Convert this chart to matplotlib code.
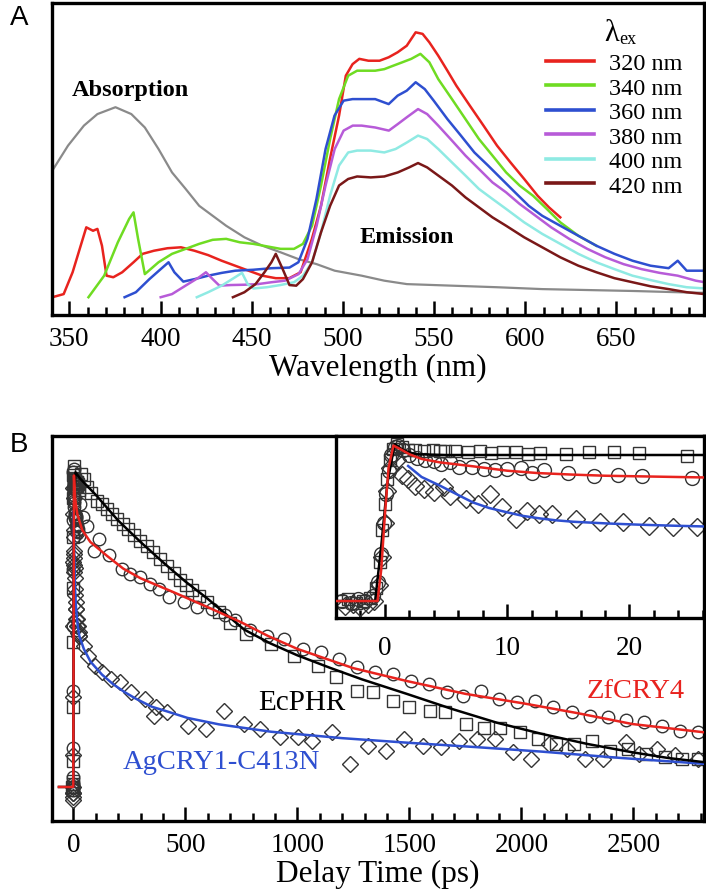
import matplotlib
matplotlib.use("Agg")
import matplotlib.pyplot as plt
from matplotlib.lines import Line2D

plt.rcParams['font.family'] = ['Liberation Serif', 'DejaVu Serif']
plt.rcParams['mathtext.fontset'] = 'stix'

# ---------------- Panel A data (wavelength nm, relative intensity) ----------------
abs_wl = [340.7, 349.3, 358.0, 365.4, 375.3, 384.0, 391.4, 398.9, 406.3, 413.8, 421.2, 428.6, 436.0,
          446.0, 455.9, 465.8, 475.7, 485.6, 495.5, 510.3, 522.7, 535.1, 559.8, 584.6, 609.4, 634.2,
          658.9, 683.7, 698.5]
abs_val = [0.463, 0.543, 0.607, 0.644, 0.666, 0.644, 0.601, 0.532, 0.457, 0.404, 0.350, 0.318, 0.286,
           0.249, 0.222, 0.201, 0.179, 0.163, 0.142, 0.126, 0.110, 0.099, 0.094, 0.089, 0.083, 0.080,
           0.077, 0.073, 0.071]

em320_wl = [340.7, 346.9, 351.8, 356.8, 359.3, 363.0, 365.4, 367.9, 370.4, 374.1, 379.0, 385.2, 390.2,
            396.4, 403.8, 411.2, 418.6, 426.1, 433.5, 440.9, 448.3, 455.8, 463.2, 470.6, 476.8, 483.0,
            488.0, 492.9, 497.9, 501.6, 505.3, 509.0, 514.0, 520.1, 525.1, 530.0, 535.0, 539.9, 543.7,
            547.4, 552.3, 557.3, 562.2, 569.6, 577.1, 584.5, 591.9, 599.4, 606.8, 613.0, 619.2]
em320_val = [0.057, 0.067, 0.137, 0.233, 0.281, 0.270, 0.276, 0.222, 0.126, 0.121, 0.137, 0.169, 0.196,
             0.206, 0.214, 0.217, 0.206, 0.192, 0.174, 0.158, 0.142, 0.126, 0.118, 0.118, 0.137, 0.244,
             0.350, 0.500, 0.639, 0.767, 0.804, 0.821, 0.815, 0.815, 0.826, 0.842, 0.863, 0.906, 0.901,
             0.874, 0.831, 0.783, 0.735, 0.671, 0.607, 0.543, 0.489, 0.436, 0.382, 0.345, 0.313]

em340_wl = [360.5, 369.1, 376.6, 382.8, 385.2, 387.7, 391.4, 398.9, 406.3, 413.8, 421.2, 428.6, 436.0,
            443.5, 450.9, 458.3, 465.8, 473.2, 478.1, 483.1, 488.0, 493.0, 497.9, 502.9, 507.8, 512.8,
            517.7, 522.7, 527.6, 532.6, 537.5, 542.5, 547.4, 552.3, 559.8, 567.2, 574.6, 582.0, 589.5,
            596.9, 604.3, 611.8, 619.2, 629.1, 639.0]
em340_val = [0.057, 0.126, 0.233, 0.308, 0.329, 0.244, 0.131, 0.169, 0.196, 0.212, 0.228, 0.241, 0.244,
             0.233, 0.228, 0.220, 0.212, 0.212, 0.228, 0.286, 0.415, 0.564, 0.692, 0.767, 0.783, 0.783,
             0.783, 0.788, 0.799, 0.810, 0.821, 0.837, 0.810, 0.756, 0.692, 0.628, 0.564, 0.511, 0.457,
             0.415, 0.382, 0.340, 0.297, 0.254, 0.222]

em360_wl = [380.3, 386.5, 393.9, 400.1, 404.4, 407.6, 412.5, 418.7, 426.1, 433.6, 441.0, 450.9, 460.8,
            470.7, 475.6, 480.6, 485.5, 490.5, 495.4, 500.4, 505.3, 510.3, 517.7, 525.1, 530.0, 535.0,
            539.9, 544.9, 549.8, 557.3, 564.7, 572.1, 579.6, 587.0, 594.4, 601.9, 609.3, 619.2, 629.1,
            639.0, 648.9, 658.8, 668.7, 678.6, 683.6, 688.5, 698.4]
em360_val = [0.057, 0.073, 0.115, 0.147, 0.169, 0.137, 0.107, 0.115, 0.126, 0.135, 0.142, 0.145, 0.150,
             0.152, 0.169, 0.244, 0.372, 0.532, 0.639, 0.687, 0.692, 0.692, 0.692, 0.676, 0.703, 0.719,
             0.746, 0.724, 0.687, 0.628, 0.575, 0.521, 0.479, 0.436, 0.393, 0.350, 0.318, 0.286, 0.254,
             0.222, 0.196, 0.174, 0.158, 0.150, 0.174, 0.142, 0.142]

em380_wl = [400.1, 406.3, 413.7, 421.2, 424.9, 428.6, 432.3, 438.5, 445.9, 453.4, 460.8, 468.2, 475.7,
            480.6, 485.6, 490.5, 495.5, 500.4, 505.4, 510.3, 517.7, 525.2, 530.1, 535.1, 541.2, 546.2,
            552.3, 559.8, 567.2, 574.6, 582.0, 589.5, 596.9, 604.3, 614.2, 624.1, 634.0, 643.9, 653.9,
            663.8, 673.7, 683.6, 693.5, 698.4]
em380_val = [0.057, 0.067, 0.094, 0.121, 0.137, 0.115, 0.094, 0.096, 0.097, 0.099, 0.105, 0.110, 0.131,
             0.179, 0.286, 0.415, 0.532, 0.591, 0.607, 0.607, 0.601, 0.591, 0.612, 0.634, 0.660, 0.644,
             0.607, 0.559, 0.511, 0.468, 0.425, 0.393, 0.356, 0.324, 0.281, 0.244, 0.212, 0.185, 0.163,
             0.147, 0.135, 0.126, 0.110, 0.105]

em400_wl = [419.9, 426.1, 433.5, 440.9, 444.7, 447.8, 450.9, 458.3, 465.7, 473.2, 478.1, 483.1, 488.0,
            493.0, 497.9, 502.9, 507.8, 515.3, 522.7, 528.9, 535.1, 541.2, 546.2, 552.3, 559.8, 567.2,
            574.6, 582.0, 589.5, 599.4, 609.3, 619.2, 629.1, 639.0, 648.9, 658.8, 668.7, 678.6, 688.5,
            698.4]
em400_val = [0.057, 0.073, 0.094, 0.121, 0.135, 0.099, 0.085, 0.089, 0.096, 0.105, 0.126, 0.169, 0.265,
             0.383, 0.479, 0.521, 0.527, 0.527, 0.521, 0.532, 0.553, 0.575, 0.564, 0.532, 0.489, 0.447,
             0.404, 0.372, 0.340, 0.297, 0.260, 0.228, 0.196, 0.169, 0.147, 0.126, 0.112, 0.099, 0.089,
             0.085]

em420_wl = [439.7, 446.0, 452.1, 457.0, 460.8, 463.2, 467.0, 470.7, 474.4, 478.1, 483.1, 488.0, 493.0,
            497.9, 502.9, 507.8, 515.3, 522.7, 530.1, 536.3, 541.2, 546.2, 552.3, 559.8, 567.2, 574.6,
            582.0, 589.5, 599.4, 609.3, 619.2, 629.1, 639.0, 648.9, 658.8, 668.7, 678.6, 688.5, 698.4]
em420_val = [0.057, 0.073, 0.099, 0.137, 0.169, 0.196, 0.147, 0.096, 0.094, 0.115, 0.169, 0.265, 0.350,
             0.415, 0.436, 0.444, 0.441, 0.444, 0.457, 0.473, 0.487, 0.473, 0.447, 0.415, 0.377, 0.345,
             0.313, 0.286, 0.249, 0.217, 0.185, 0.158, 0.137, 0.118, 0.105, 0.092, 0.083, 0.073, 0.067]

ex_labels = ['320 nm', '340 nm', '360 nm', '380 nm', '400 nm', '420 nm']
ex_colors = ['#E8231E', '#6FDC22', '#2E4FD0', '#B75BD8', '#8FEAE3', '#7A1818']
abs_color = '#8A8A8A'

# ---------------- Panel B data (delay ps, normalized signal) ----------------
# early-time data (shown in inset and at t~0 in the main plot)
sq_t_early = [-3.7, -3.0, -2.4, -1.8, -1.2, -0.7, -0.4, -0.2, 0.0, 0.2, 0.4, 0.7, 1.0, 1.4, 1.9, 2.5, 3.2,
              3.9, 4.5, 4.9, 5.7, 6.8, 7.8, 8.7, 9.7, 10.7, 11.7, 12.7, 14.8, 16.7, 18.7, 20.8, 24.7]
sq_v_early = [0.0, 0.01, -0.01, 0.0, 0.02, 0.08, 0.25, 0.45, 0.62, 0.78, 0.90, 0.97, 1.0, 0.98, 0.96,
              0.96, 0.955, 0.96, 0.957, 0.957, 0.957, 0.947, 0.957, 0.943, 0.951, 0.951, 0.936, 0.943,
              0.936, 0.951, 0.951, 0.943, 0.926]
ci_t_early = [-3.5, -2.8, -2.2, -1.6, -1.0, -0.6, -0.3, -0.1, 0.1, 0.3, 0.5, 0.8, 1.1, 1.5, 2.0, 2.6, 3.3,
              4.0, 4.6, 5.3, 6.1, 7.1, 8.1, 9.0, 10.0, 11.1, 12.0, 13.0, 15.0, 17.1, 19.1, 21.0, 25.1]
ci_v_early = [0.0, -0.01, 0.01, 0.0, 0.03, 0.12, 0.30, 0.50, 0.68, 0.83, 0.93, 0.98, 0.99, 0.96, 0.93,
              0.91, 0.90, 0.89, 0.873, 0.883, 0.851, 0.851, 0.841, 0.837, 0.841, 0.845, 0.813, 0.834,
              0.815, 0.798, 0.802, 0.794, 0.783]
di_t_early = [-3.3, -2.6, -2.0, -1.4, -0.9, -0.5, -0.25, 0.0, 0.2, 0.4, 0.7, 1.0, 1.4, 1.9, 2.5, 3.2, 4.0,
              4.8, 5.3, 6.6, 7.6, 8.6, 9.6, 10.7, 11.6, 12.6, 13.7, 15.6, 17.6, 19.5, 21.6, 23.6, 25.5]
di_v_early = [-0.03, -0.02, -0.04, -0.02, 0.0, 0.10, 0.28, 0.50, 0.70, 0.85, 0.93, 0.90, 0.80, 0.777,
              0.735, 0.713, 0.692, 0.724, 0.671, 0.650, 0.618, 0.682, 0.597, 0.522, 0.575, 0.554, 0.554,
              0.522, 0.501, 0.501, 0.480, 0.469, 0.469]

# later data (main plot)
sq_t = [35, 47, 61, 80, 106, 128, 150, 172, 195, 220, 246, 272, 299, 328, 357, 388, 418, 448, 478, 504,
        530, 560, 597, 650, 700, 772, 883, 984, 1093, 1174, 1265, 1337, 1428, 1499, 1590, 1660, 1751,
        1832, 1903, 1994, 2074, 2155, 2236, 2316, 2397, 2477, 2558, 2639, 2716, 2788]
sq_v = [0.975, 0.96, 0.935, 0.915, 0.892, 0.88, 0.866, 0.85, 0.835, 0.82, 0.804, 0.785, 0.767, 0.75,
        0.732, 0.71, 0.689, 0.665, 0.643, 0.628, 0.612, 0.595, 0.576, 0.545, 0.512, 0.477, 0.445, 0.409,
        0.378, 0.342, 0.300, 0.295, 0.269, 0.248, 0.238, 0.233, 0.196, 0.185, 0.185, 0.170, 0.150, 0.134,
        0.134, 0.144, 0.113, 0.118, 0.103, 0.093, 0.087, 0.087]
ci_t = [30, 45, 61, 91, 113, 158, 217, 254, 299, 344, 381, 425, 492, 552, 619, 679, 720, 790, 863, 940,
        1024, 1105, 1186, 1266, 1347, 1428, 1508, 1589, 1669, 1740, 1820, 1901, 1982, 2062, 2143, 2224,
        2304, 2385, 2465, 2546, 2627, 2707, 2788]
ci_v = [0.88, 0.84, 0.814, 0.736, 0.773, 0.721, 0.679, 0.664, 0.653, 0.632, 0.617, 0.591, 0.575, 0.560,
        0.555, 0.534, 0.520, 0.490, 0.471, 0.461, 0.430, 0.420, 0.399, 0.373, 0.357, 0.352, 0.331, 0.321,
        0.295, 0.284, 0.300, 0.274, 0.264, 0.269, 0.248, 0.233, 0.222, 0.217, 0.207, 0.202, 0.191, 0.175,
        0.170]
di_t = [27, 47, 67, 97, 128, 168, 208, 259, 319, 359, 369, 420, 510, 591, 672, 762, 833, 924, 1004,
        1065, 1155, 1236, 1317, 1397, 1478, 1559, 1639, 1720, 1800, 1881, 1962, 2042, 2123, 2204, 2284,
        2365, 2465, 2526, 2607, 2687, 2788]
di_v = [0.482, 0.440, 0.409, 0.378, 0.357, 0.336, 0.326, 0.295, 0.274, 0.222, 0.248, 0.233, 0.191,
        0.181, 0.238, 0.196, 0.181, 0.155, 0.155, 0.144, 0.170, 0.072, 0.129, 0.113, 0.150, 0.129, 0.124,
        0.144, 0.150, 0.150, 0.108, 0.087, 0.134, 0.118, 0.087, 0.087, 0.139, 0.103, 0.118, 0.098, 0.087]

# fit curves, main plot
fit_ec_t = [-64, 0, 3, 10, 31, 100, 200, 300, 400, 500, 600, 763, 880, 1000, 1150, 1289, 1488, 1690,
            1891, 2093, 2294, 2495, 2657, 2818]
fit_ec_v = [0.0, 0.0, 0.90, 0.98, 0.96, 0.91, 0.83, 0.763, 0.70, 0.64, 0.586, 0.49, 0.447, 0.41, 0.37,
            0.335, 0.29, 0.243, 0.20, 0.165, 0.134, 0.108, 0.090, 0.077]
fit_zf_t = [-64, 0, 3, 8, 18, 40, 76, 150, 223, 300, 446, 600, 746, 870, 1000, 1250, 1488, 1750, 2012,
            2250, 2495, 2818]
fit_zf_v = [0.0, 0.0, 0.97, 0.90, 0.85, 0.80, 0.763, 0.72, 0.68, 0.65, 0.607, 0.56, 0.514, 0.47, 0.43,
            0.37, 0.33, 0.29, 0.26, 0.23, 0.196, 0.17]
fit_ag_t = [0, 2, 4, 7, 12, 20, 27, 47, 77, 128, 178, 230, 279, 350, 420, 510, 650, 883, 1200, 1488,
            1800, 2092, 2450, 2818]
fit_ag_v = [0.0, 0.86, 0.74, 0.63, 0.56, 0.50, 0.47, 0.43, 0.39, 0.35, 0.32, 0.295, 0.275, 0.25, 0.235,
            0.215, 0.195, 0.172, 0.152, 0.138, 0.124, 0.11, 0.09, 0.072]

# fit curves, inset
ins_ec_t = [-4, -0.8, -0.3, 0.2, 0.8, 1.5, 2.5, 5, 10, 15, 20, 26.1]
ins_ec_v = [0.0, 0.0, 0.35, 0.75, 1.0, 0.96, 0.935, 0.93, 0.93, 0.93, 0.93, 0.93]
ins_zf_t = [-4, -0.6, -0.3, 0.0, 0.3, 0.7, 1.2, 2, 3, 4.5, 7.2, 10, 12.5, 15.4, 18, 20.9, 26.1]
ins_zf_v = [0.0, 0.0, 0.20, 0.55, 0.85, 0.99, 0.97, 0.935, 0.905, 0.883, 0.858, 0.83, 0.815, 0.805,
            0.798, 0.794, 0.787]
ins_ag_t = [1.9, 3, 4.5, 6, 7.2, 8.5, 10, 11.3, 12.7, 14, 15.4, 18.2, 20.9, 23.5, 26.1]
ins_ag_v = [0.86, 0.79, 0.735, 0.675, 0.628, 0.593, 0.565, 0.542, 0.526, 0.514, 0.505, 0.494, 0.486,
            0.48, 0.475]

RED = '#E8231E'
BLUE = '#2E4FD0'

fig = plt.figure(figsize=(7.06, 8.95), dpi=100)

def style_axes(ax, lw=2.4):
    for s in ax.spines.values():
        s.set_linewidth(lw)
        s.set_color('black')
    ax.tick_params(axis='x', which='both', direction='in', top=False, bottom=True,
                   labelsize=19.5, width=1.8, pad=8)
    ax.tick_params(axis='x', which='major', length=10)
    ax.tick_params(axis='x', which='minor', length=6)
    ax.tick_params(axis='y', which='both', left=False, right=False, labelleft=False)

# ---------------- Panel A ----------------
axA = fig.add_axes([52/706, 1-316/895, 652/706, 312/895])
axA.plot(abs_wl, abs_val, color=abs_color, lw=1.6)
em_data = [(em320_wl, em320_val), (em340_wl, em340_val), (em360_wl, em360_val),
           (em380_wl, em380_val), (em400_wl, em400_val), (em420_wl, em420_val)]
handles = []
for (wl, v), c, lab in zip(em_data, ex_colors, ex_labels):
    axA.plot(wl, v, color=c, lw=1.8)
    handles.append(Line2D([], [], color=c, lw=2.6, label=lab))
axA.set_xlim(340.5, 698)
axA.set_ylim(0, 1)
axA.set_xticks([350, 400, 450, 500, 550, 600, 650])
axA.set_xticks(range(350, 700, 10), minor=True)
style_axes(axA)
axA.set_xlabel('Wavelength (nm)', fontsize=22.5, labelpad=1)
leg = axA.legend(handles=handles, loc='upper left', bbox_to_anchor=(0.757, 0.842), frameon=False,
                 fontsize=17.5, handlelength=2.0, handletextpad=0.6, labelspacing=0.1,
                 borderaxespad=0, borderpad=0)
axA.text(651.5, 0.905, 'λ', fontsize=22, ha='right', va='center')
axA.text(651.5, 0.885, 'ex', fontsize=13, ha='left', va='center')
axA.text(351.6, 0.724, 'Absorption', fontsize=17.5, fontweight='bold', ha='left', va='center')
axA.text(509, 0.253, 'Emission', fontsize=17.5, fontweight='bold', ha='left', va='center')
fig.text(10/706, 1-18/895, 'A', fontsize=20, family='Liberation Sans', ha='left', va='center')

# ---------------- Panel B ----------------
axB = fig.add_axes([52/706, 1-822/895, 652/706, 385/895])
mk = dict(linestyle='none', mfc='none', mec='#333333', mew=1.0, ms=9, zorder=2)
axB.plot(sq_t_early + sq_t, sq_v_early + sq_v, marker='s', **mk)
axB.plot(ci_t_early + ci_t, ci_v_early + ci_v, marker='o', **mk)
axB.plot(di_t_early + di_t, di_v_early + di_v, marker='D', **dict(mk, ms=8))
axB.plot(fit_ag_t, fit_ag_v, color=BLUE, lw=1.8, zorder=3)
axB.plot(fit_ec_t, fit_ec_v, color='black', lw=1.8, zorder=3)
axB.plot(fit_zf_t, fit_zf_v, color=RED, lw=1.8, zorder=4)
axB.set_xlim(-95, 2815)
axB.set_ylim(-0.106, 1.093)
axB.set_xticks([0, 500, 1000, 1500, 2000, 2500])
axB.set_xticks(range(0, 2801, 100), minor=True)
style_axes(axB)
axB.set_xlabel('Delay Time (ps)', fontsize=22.5, labelpad=1)
axB.text(1018, 0.265, 'EcPHR', fontsize=21, color='black', ha='center', va='center')
axB.text(2509, 0.299, 'ZfCRY4', fontsize=20.5, color=RED, ha='center', va='center')
axB.text(661, 0.078, 'AgCRY1-C413N', fontsize=20.5, color=BLUE, ha='center', va='center')
fig.text(10/706, 1-445/895, 'B', fontsize=20, family='Liberation Sans', ha='left', va='center')

# ---------------- Inset ----------------
axI = fig.add_axes([336/706, 1-619/895, 368/706, 182/895])
axI.plot(sq_t_early, sq_v_early, marker='s', **mk)
axI.plot(ci_t_early, ci_v_early, marker='o', **dict(mk, ms=10))
axI.plot(di_t_early, di_v_early, marker='D', **dict(mk, ms=9))
axI.plot(ins_ag_t, ins_ag_v, color=BLUE, lw=1.8, zorder=3)
axI.plot(ins_ec_t, ins_ec_v, color='black', lw=1.8, zorder=3)
axI.plot(ins_zf_t, ins_zf_v, color=RED, lw=1.8, zorder=4)
axI.set_xlim(-4, 26.1)
axI.set_ylim(-0.108, 1.051)
axI.set_xticks([0, 10, 20])
axI.set_xticks(range(-2, 27, 2), minor=True)
style_axes(axI)
axI.tick_params(axis='x', which='major', pad=12)

fig.savefig('out.png', dpi=100)
